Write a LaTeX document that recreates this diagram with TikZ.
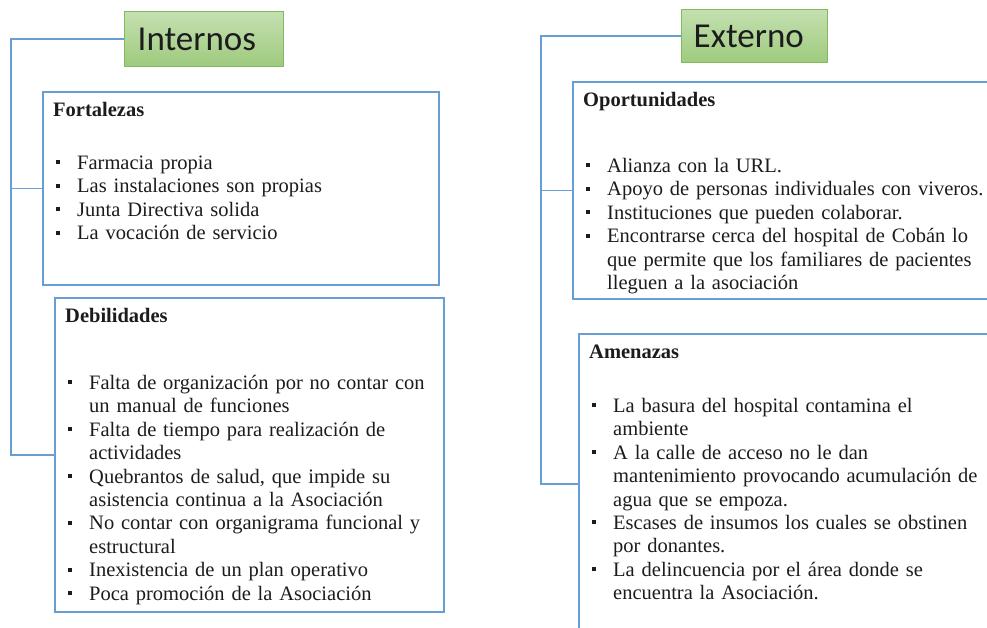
\documentclass[tikz,border=0pt]{standalone}
\usepackage{fontspec}
\setmainfont{Liberation Serif}
\newfontfamily\calfont{Carlito}
\usetikzlibrary{positioning}
\definecolor{sky}{RGB}{104,158,214}
\definecolor{leaf}{RGB}{132,186,92}
\definecolor{leaftop}{RGB}{196,224,176}
\definecolor{leafbot}{RGB}{158,202,126}
\definecolor{ink}{RGB}{28,28,30}
\newcommand{\itm}{\par\hangindent=21pt\hangafter=1\noindent\makebox[21pt][l]{\raisebox{5pt}{\rule{4pt}{4pt}}}}
\tikzset{
  title box/.style={draw=leaf,line width=1.4pt,top color=leaftop,bottom color=leafbot,
    anchor=north west,inner xsep=12pt,inner ysep=0pt,minimum height=#1,align=left,
    font=\calfont\fontsize{35}{40}\selectfont,text=ink},
  panel/.style={draw=sky,line width=1.6pt,anchor=north west,inner sep=0pt},
  head/.style={anchor=base west,inner sep=0pt,font=\fontsize{20.5}{23.4}\selectfont\bfseries,text=ink},
  items/.style={anchor=base west,inner sep=0pt,text width=420pt,align=left,
    font=\fontsize{20.5}{23.4}\selectfont,text=ink},
  link/.style={draw=sky,line width=1.6pt},
}
\begin{document}
\begin{tikzpicture}[x=1pt,y=-1pt]
  \clip (0,0) rectangle (987,627);
  \fill[white] (0,0) rectangle (987,627);
  % titles
  \node[title box=55,minimum width=159,text width=133,inner xsep=13pt] (int) at (124,11) {Internos};
  \node[title box=53,minimum width=146,text width=122] (ext) at (681,9) {Externo};
  % panels
  \foreach \n/\x/\y/\w/\h/\t/\o/\d in {
    fort/42/91/396/193/Fortalezas/55/{\itm Farmacia propia
      \itm Las instalaciones son propias
      \itm Junta Directiva solida
      \itm La vocación de servicio},
    deb/54/297/389/314/Debilidades/69/{\itm Falta de organización por no contar con\newline un manual de funciones
      \itm Falta de tiempo para realización de\newline actividades
      \itm Quebrantos de salud, que impide su\newline asistencia continua a la Asociación
      \itm No contar con organigrama funcional y\newline estructural
      \itm Inexistencia de un plan operativo
      \itm Poca promoción de la Asociación},
    opor/572/81/440/217/Oportunidades/68/{\itm Alianza con la URL.
      \itm Apoyo de personas individuales con viveros.
      \itm Instituciones que pueden colaborar.
      \itm Encontrarse cerca del hospital de Cobán lo\newline que permite que los familiares de pacientes\newline lleguen a la asociación},
    amen/578/333/440/300/Amenazas/56/{\itm La basura del hospital contamina el\newline ambiente
      \itm A la calle de acceso no le dan\newline mantenimiento provocando acumulación de\newline agua que se empoza.
      \itm Escases de insumos los cuales se obstinen\newline por donantes.
      \itm La delincuencia por el área donde se\newline encuentra la Asociación.}}
  {
    \node[panel,minimum width=\w,minimum height=\h] (\n) at (\x,\y) {};
    \node[head] (\n-h) at (\x+11,\y+25) {\t};
    \node[items] (\n-l) at (\x+14,\y+\o) {\d\endgraf};
  }
  % connectors
  \coordinate (ibend) at (11,0);
  \coordinate (ebend) at (541,0);
  \draw[link] (int.west) -- (int.west -| ibend) |- (deb.west);
  \draw[link] (fort.west -| ibend) -- (fort.west);
  \draw[link] (ext.west) -- (ext.west -| ebend) |- (amen.west);
  \draw[link] (opor.west -| ebend) -- (opor.west);
\end{tikzpicture}
\end{document}
